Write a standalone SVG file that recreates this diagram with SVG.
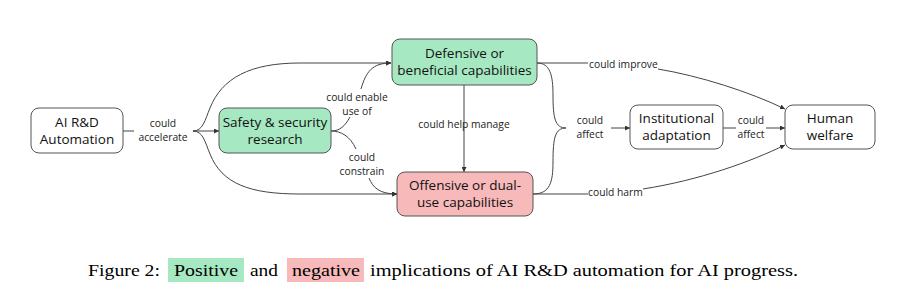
<svg xmlns="http://www.w3.org/2000/svg" width="900" height="294" viewBox="0 0 900 294">
<defs>
<marker id="ah" viewBox="0 0 10 10" refX="10" refY="5" markerWidth="5" markerHeight="5" orient="auto" markerUnits="userSpaceOnUse">
<path d="M0,0 L10,5 L0,10 z" fill="#333"/>
</marker>
<style>
.node{stroke:#555;stroke-width:1;}
.plain{fill:#fff;}
.pos{fill:#a6e8c2;}
.neg{fill:#f7b9b9;}
.nt{font-family:"Open Sans","Noto Sans",sans-serif;font-size:13.5px;fill:#111;text-anchor:middle;}
.lbl{font-family:"Open Sans","Noto Sans",sans-serif;font-size:10.3px;fill:#222;text-anchor:middle;}
.lbs{font-family:"Open Sans","Noto Sans",sans-serif;font-size:10.3px;fill:#222;text-anchor:start;}
.e{fill:none;stroke:#444;stroke-width:1;}
.cap{font-family:"Liberation Serif","Times New Roman",serif;font-size:17px;fill:#000;}
</style>
</defs>
<rect width="900" height="294" fill="#fff"/>

<g id="connectors">
<path class="e" d="M123,131 L134,131"/>
<path class="e" d="M193,131 L219,131" marker-end="url(#ah)"/>
<path class="e" d="M193,131 C203,131 205,120 210,108 C222,78 250,63 300,63 L391,63" marker-end="url(#ah)"/>
<path class="e" d="M193,131 C203,131 205,142 210,154 C222,184 250,194 300,194 L397,194" marker-end="url(#ah)"/>
<path class="e" d="M331,131 C340,131 345,126 350,117"/>
<path class="e" d="M361,89 C366,72 372,63 391,63" marker-end="url(#ah)"/>
<path class="e" d="M331,131 C341,131 350,136 356,149"/>
<path class="e" d="M369,178 C373,188 380,194 397,194" marker-end="url(#ah)"/>
<path class="e" d="M464,85 L464,172" marker-end="url(#ah)"/>
<path class="e" d="M537,63 L588,63"/>
<path class="e" d="M533,194 L588,194"/>
<path class="e" d="M537,63 C550,63 553,75 553,95 C553,118 555,128 566,128"/>
<path class="e" d="M533,194 C550,194 553,182 553,162 C553,138 555,128 566,128"/>
<path class="e" d="M611,128 L630,128" marker-end="url(#ah)"/>
<path class="e" d="M658,69 C700,76 750,92 785,109" marker-end="url(#ah)"/>
<path class="e" d="M643,189 C700,180 750,162 785,145" marker-end="url(#ah)"/>
<path class="e" d="M723,128 L736,128"/>
<path class="e" d="M766,128 L785,128" marker-end="url(#ah)"/>
<text class="lbl" x="163" y="127">could</text>
<text class="lbl" x="163" y="141">accelerate</text>
<text class="lbl" x="357" y="101">could enable</text>
<text class="lbl" x="357" y="115">use of</text>
<text class="lbl" x="362" y="161">could</text>
<text class="lbl" x="362" y="175">constrain</text>
<text class="lbl" x="464" y="128">could help manage</text>
<text class="lbl" x="590" y="124">could</text>
<text class="lbl" x="590" y="138">affect</text>
<text class="lbl" x="751" y="124">could</text>
<text class="lbl" x="751" y="138">affect</text>
<text class="lbs" x="589" y="68">could improve</text>
<text class="lbs" x="588" y="196">could harm</text>
</g>

<g id="ai-rd">
<rect class="node plain" x="31" y="108" width="92" height="45" rx="8"/>
<text class="nt" x="77" y="127">AI R&amp;D</text>
<text class="nt" x="77" y="144">Automation</text>
</g>
<g id="safety">
<rect class="node pos" x="219" y="108" width="112" height="45" rx="8"/>
<text class="nt" x="275" y="127">Safety &amp; security</text>
<text class="nt" x="275" y="144">research</text>
</g>
<g id="defensive">
<rect class="node pos" x="392" y="39" width="145" height="46" rx="8"/>
<text class="nt" x="464.5" y="58">Defensive or</text>
<text class="nt" x="464.5" y="75">beneficial capabilities</text>
</g>
<g id="offensive">
<rect class="node neg" x="397" y="172" width="136" height="44" rx="8"/>
<text class="nt" x="465" y="190">Offensive or dual-</text>
<text class="nt" x="465" y="207">use capabilities</text>
</g>
<g id="institutional">
<rect class="node plain" x="630" y="105" width="93" height="44" rx="8"/>
<text class="nt" x="676.5" y="123">Institutional</text>
<text class="nt" x="676.5" y="140">adaptation</text>
</g>
<g id="human">
<rect class="node plain" x="785" y="105" width="90" height="44" rx="8"/>
<text class="nt" x="830" y="123">Human</text>
<text class="nt" x="830" y="140">welfare</text>
</g>

<g id="caption">
<rect x="168" y="258" width="76" height="24" fill="#a6e8c2"/>
<rect x="287" y="258" width="77" height="24" fill="#f7b9b9"/>
<text class="cap" x="88" y="276" textLength="72" lengthAdjust="spacingAndGlyphs">Figure 2:</text>
<text class="cap" x="174" y="276" textLength="64" lengthAdjust="spacingAndGlyphs">Positive</text>
<text class="cap" x="250" y="276" textLength="28" lengthAdjust="spacingAndGlyphs">and</text>
<text class="cap" x="292" y="276" textLength="68" lengthAdjust="spacingAndGlyphs">negative</text>
<text class="cap" x="370" y="276" textLength="428" lengthAdjust="spacingAndGlyphs">implications of AI R&amp;D automation for AI progress.</text>
</g>
</svg>
